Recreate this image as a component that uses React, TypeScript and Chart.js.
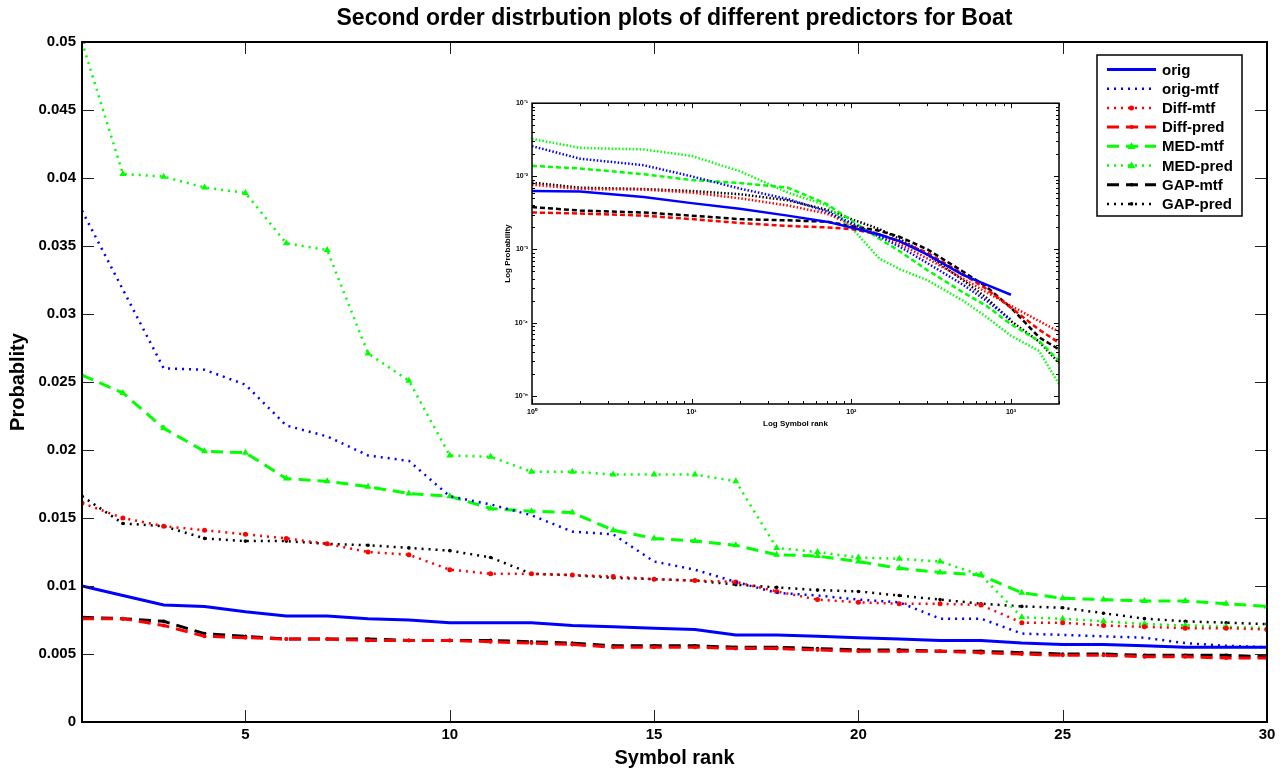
import React, { useEffect, useRef } from 'react';
import { Chart, registerables } from 'chart.js';

Chart.register(...registerables);

// ---------- main chart data ----------
const RANKS = [1, 2, 3, 4, 5, 6, 7, 8, 9, 10, 11, 12, 13, 14, 15, 16, 17, 18, 19, 20, 21, 22, 23, 24, 25, 26, 27, 28, 29, 30];
const X_TICKS = [5, 10, 15, 20, 25, 30];
const Y_TICKS = [0, 0.005, 0.01, 0.015, 0.02, 0.025, 0.03, 0.035, 0.04, 0.045, 0.05];

const ORIG = [0.0100, 0.0093, 0.0086, 0.0085, 0.0081, 0.0078, 0.0078, 0.0076, 0.0075, 0.0073, 0.0073, 0.0073, 0.0071, 0.0070, 0.0069, 0.0068, 0.0064, 0.0064, 0.0063, 0.0062, 0.0061, 0.0060, 0.0060, 0.0058, 0.0057, 0.0057, 0.0056, 0.0055, 0.0055, 0.0055];
const ORIG_MTF = [0.0376, 0.0318, 0.0260, 0.0259, 0.0248, 0.0218, 0.0210, 0.0196, 0.0192, 0.0166, 0.0160, 0.0152, 0.0140, 0.0138, 0.0118, 0.0112, 0.0103, 0.0095, 0.0093, 0.0090, 0.0088, 0.0076, 0.0076, 0.0065, 0.0064, 0.0063, 0.0062, 0.0058, 0.0056, 0.0055];
const DIFF_MTF = [0.0161, 0.0150, 0.0144, 0.0141, 0.0138, 0.0135, 0.0131, 0.0125, 0.0123, 0.0112, 0.0109, 0.0109, 0.0108, 0.0107, 0.0105, 0.0104, 0.0103, 0.0096, 0.0090, 0.0088, 0.0087, 0.0087, 0.0086, 0.0073, 0.0073, 0.0071, 0.0070, 0.0069, 0.0069, 0.0068];
const DIFF_PRED = [0.0076, 0.0076, 0.0071, 0.0063, 0.0062, 0.0061, 0.0061, 0.0060, 0.0060, 0.0060, 0.0059, 0.0058, 0.0057, 0.0055, 0.0055, 0.0055, 0.0054, 0.0054, 0.0053, 0.0052, 0.0052, 0.0052, 0.0051, 0.0050, 0.0049, 0.0049, 0.0048, 0.0048, 0.0047, 0.0047];
const MED_MTF = [0.0255, 0.0242, 0.0216, 0.0199, 0.0198, 0.0179, 0.0177, 0.0173, 0.0168, 0.0166, 0.0157, 0.0155, 0.0154, 0.0141, 0.0135, 0.0133, 0.0130, 0.0123, 0.0122, 0.0118, 0.0113, 0.0110, 0.0108, 0.0095, 0.0091, 0.0090, 0.0089, 0.0089, 0.0087, 0.0085];
const MED_PRED = [0.0500, 0.0403, 0.0401, 0.0393, 0.0389, 0.0352, 0.0347, 0.0271, 0.0251, 0.0196, 0.0195, 0.0184, 0.0184, 0.0182, 0.0182, 0.0182, 0.0177, 0.0128, 0.0125, 0.0121, 0.0120, 0.0118, 0.0108, 0.0077, 0.0076, 0.0074, 0.0072, 0.0071, 0.0070, 0.0069];
const GAP_MTF = [0.0077, 0.0076, 0.0074, 0.0065, 0.0063, 0.0061, 0.0061, 0.0061, 0.0060, 0.0060, 0.0060, 0.0059, 0.0058, 0.0056, 0.0056, 0.0056, 0.0055, 0.0055, 0.0054, 0.0053, 0.0053, 0.0052, 0.0052, 0.0051, 0.0050, 0.0050, 0.0049, 0.0049, 0.0049, 0.0048];
const GAP_PRED = [0.0166, 0.0146, 0.0144, 0.0135, 0.0133, 0.0133, 0.0131, 0.0130, 0.0128, 0.0126, 0.0121, 0.0109, 0.0108, 0.0106, 0.0105, 0.0104, 0.0101, 0.0099, 0.0097, 0.0096, 0.0093, 0.0090, 0.0087, 0.0085, 0.0084, 0.0080, 0.0076, 0.0074, 0.0073, 0.0072];

// ---------- inset (log-log) data ----------
const INSET_RANKS = [1, 2, 5, 10, 20, 40, 70, 100, 150, 200, 300, 500, 700, 1000, 1500, 2000];
const IN_ORIG = [0.0063, 0.0062, 0.0052, 0.0043, 0.0036, 0.0029, 0.0024, 0.0020, 0.0016, 0.0013, 0.00085, 0.00045, 0.00033, 0.00024, null, null];
const IN_ORIG_MTF = [0.0259, 0.0174, 0.0142, 0.0100, 0.0068, 0.0049, 0.0033, 0.0023, 0.0015, 0.0011, 0.00065, 0.00033, 0.00020, 0.00011, null, null];
const IN_DIFF_MTF = [0.0077, 0.0067, 0.0066, 0.0060, 0.0050, 0.0040, 0.0031, 0.0022, 0.0016, 0.0012, 0.00075, 0.00040, 0.00026, 0.00017, 0.000105, 0.000075];
const IN_DIFF_PRED = [0.0032, 0.0031, 0.0029, 0.0026, 0.0023, 0.0021, 0.0020, 0.0019, 0.0016, 0.0013, 0.0009, 0.00046, 0.00029, 0.00016, 0.00008, 0.000053];
const IN_MED_MTF = [0.0139, 0.0128, 0.0107, 0.0089, 0.0081, 0.0070, 0.0042, 0.0025, 0.0014, 0.00095, 0.00052, 0.00026, 0.00017, 0.000095, 0.000056, 0.000030];
const IN_MED_PRED = [0.0325, 0.0245, 0.0233, 0.0190, 0.0118, 0.0060, 0.0040, 0.0020, 0.00075, 0.00054, 0.00038, 0.00020, 0.00012, 0.000066, 0.000041, 0.0000145];
const IN_GAP_MTF = [0.0038, 0.0034, 0.0032, 0.0029, 0.0026, 0.0025, 0.0024, 0.0021, 0.0018, 0.0015, 0.0010, 0.00050, 0.00031, 0.00016, 0.000063, 0.000043];
const IN_GAP_PRED = [0.0082, 0.0070, 0.0067, 0.0063, 0.0057, 0.0047, 0.0035, 0.0026, 0.0019, 0.0014, 0.00085, 0.00038, 0.00022, 0.000105, 0.000055, 0.000028];
const INSET_X_TICKS = [1, 2, 3, 4, 5, 6, 7, 8, 9, 10, 20, 30, 40, 50, 60, 70, 80, 90, 100, 200, 300, 400, 500, 600, 700, 800, 900, 1000, 2000];
const INSET_Y_TICKS = [1e-5, 2e-5, 3e-5, 4e-5, 5e-5, 6e-5, 7e-5, 8e-5, 9e-5, 1e-4, 2e-4, 3e-4, 4e-4, 5e-4, 6e-4, 7e-4, 8e-4, 9e-4, 1e-3, 2e-3, 3e-3, 4e-3, 5e-3, 6e-3, 7e-3, 8e-3, 9e-3, 1e-2, 2e-2, 3e-2, 4e-2, 5e-2, 6e-2, 7e-2, 8e-2, 9e-2, 1e-1];

const SERIES_LABELS = ['orig', 'orig-mtf', 'Diff-mtf', 'Diff-pred', 'MED-mtf', 'MED-pred', 'GAP-mtf', 'GAP-pred'];

const FONT = '"Liberation Sans", Arial, Helvetica, sans-serif';
const BLUE = '#0000ff';
const RED = '#ff0000';
const GREEN = '#00ff00';
const BLACK = '#000000';
const DOT = [2, 5];
const DASH = [12, 7];

type Style = { color: string; width: number; dash: number[]; point: string | false; radius: number };
const STYLES: Style[] = [
  { color: BLUE, width: 3, dash: [], point: false, radius: 0 },
  { color: BLUE, width: 2.5, dash: DOT, point: false, radius: 0 },
  { color: RED, width: 2.5, dash: DOT, point: 'circle', radius: 2.5 },
  { color: RED, width: 3, dash: DASH, point: 'circle', radius: 2 },
  { color: GREEN, width: 3, dash: DASH, point: 'triangle', radius: 4 },
  { color: GREEN, width: 2.5, dash: DOT, point: 'triangle', radius: 4 },
  { color: BLACK, width: 3, dash: DASH, point: 'circle', radius: 1.8 },
  { color: BLACK, width: 2.5, dash: DOT, point: 'circle', radius: 1.8 },
];

const MAIN_SERIES = [ORIG, ORIG_MTF, DIFF_MTF, DIFF_PRED, MED_MTF, MED_PRED, GAP_MTF, GAP_PRED];
const INSET_SERIES = [IN_ORIG, IN_ORIG_MTF, IN_DIFF_MTF, IN_DIFF_PRED, IN_MED_MTF, IN_MED_PRED, IN_GAP_MTF, IN_GAP_PRED];

function drawMarker(ctx: CanvasRenderingContext2D, style: string | false, x: number, y: number, r: number, color: string) {
  if (!style) return;
  ctx.save();
  ctx.setLineDash([]);
  ctx.fillStyle = color;
  ctx.beginPath();
  if (style === 'triangle') {
    ctx.moveTo(x, y - r);
    ctx.lineTo(x + r, y + r * 0.7);
    ctx.lineTo(x - r, y + r * 0.7);
    ctx.closePath();
  } else {
    ctx.arc(x, y, r, 0, Math.PI * 2);
  }
  ctx.fill();
  ctx.restore();
}

const mainDecor = {
  id: 'mainDecor',
  afterDraw(chart: any) {
    const { ctx, chartArea: a, scales } = chart;
    ctx.save();
    ctx.strokeStyle = '#222';
    ctx.lineWidth = 1;
    ctx.setLineDash([]);
    ctx.beginPath();
    for (const t of scales.x.ticks) {
      const px = Math.round(scales.x.getPixelForValue(t.value)) + 0.5;
      ctx.moveTo(px, a.bottom); ctx.lineTo(px, a.bottom - 12);
      ctx.moveTo(px, a.top); ctx.lineTo(px, a.top + 12);
    }
    for (const t of scales.y.ticks) {
      const py = Math.round(scales.y.getPixelForValue(t.value)) + 0.5;
      ctx.moveTo(a.left, py); ctx.lineTo(a.left + 12, py);
      ctx.moveTo(a.right, py); ctx.lineTo(a.right - 12, py);
    }
    ctx.stroke();
    ctx.strokeStyle = '#000';
    ctx.lineWidth = 2;
    ctx.strokeRect(a.left, a.top, a.right - a.left, a.bottom - a.top);

    // title
    ctx.fillStyle = '#000';
    ctx.font = `bold 23px ${FONT}`;
    ctx.textAlign = 'center';
    ctx.textBaseline = 'middle';
    ctx.fillText('Second order distrbution plots of different predictors for Boat', (a.left + a.right) / 2, 19);

    // legend
    const lx = 1097, ly = 55, lw = 145, lh = 161;
    ctx.fillStyle = '#fff';
    ctx.fillRect(lx, ly, lw, lh);
    ctx.strokeStyle = '#000';
    ctx.lineWidth = 1.5;
    ctx.strokeRect(lx, ly, lw, lh);
    ctx.font = `bold 15px ${FONT}`;
    ctx.textAlign = 'left';
    chart.data.datasets.forEach((ds: any, i: number) => {
      const y = 69.5 + i * 19.2;
      ctx.strokeStyle = ds.borderColor;
      ctx.lineWidth = ds.borderWidth;
      ctx.setLineDash(ds.borderDash || []);
      ctx.beginPath();
      ctx.moveTo(1107, y);
      ctx.lineTo(1156, y);
      ctx.stroke();
      drawMarker(ctx, ds.pointRadius > 0 ? ds.pointStyle : false, 1131.5, y, ds.pointRadius, ds.borderColor);
      ctx.fillStyle = '#000';
      ctx.fillText(ds.label, 1162, y + 1);
    });
    ctx.restore();
  },
};

const insetDecor = {
  id: 'insetDecor',
  afterDraw(chart: any) {
    const { ctx, chartArea: a, scales } = chart;
    const isMajor = (v: number) => Math.abs(Math.log10(v) - Math.round(Math.log10(v))) < 1e-6;
    ctx.save();
    ctx.strokeStyle = '#000';
    ctx.lineWidth = 1;
    ctx.setLineDash([]);
    ctx.beginPath();
    for (const t of scales.x.ticks) {
      const px = Math.round(scales.x.getPixelForValue(t.value)) + 0.5;
      const L = isMajor(t.value) ? 5 : 3;
      ctx.moveTo(px, a.bottom); ctx.lineTo(px, a.bottom - L);
      ctx.moveTo(px, a.top); ctx.lineTo(px, a.top + L);
    }
    for (const t of scales.y.ticks) {
      const py = Math.round(scales.y.getPixelForValue(t.value)) + 0.5;
      const L = isMajor(t.value) ? 5 : 3;
      ctx.moveTo(a.left, py); ctx.lineTo(a.left + L, py);
      ctx.moveTo(a.right, py); ctx.lineTo(a.right - L, py);
    }
    ctx.stroke();
    ctx.lineWidth = 1.5;
    ctx.strokeRect(a.left, a.top, a.right - a.left, a.bottom - a.top);
    ctx.restore();
  },
};

const SUP: Record<string, string> = { '-': '⁻', '0': '⁰', '1': '¹', '2': '²', '3': '³', '4': '⁴', '5': '⁵', '6': '⁶', '7': '⁷', '8': '⁸', '9': '⁹' };
function powLabel(v: number) {
  const e = Math.log10(v);
  if (Math.abs(e - Math.round(e)) > 1e-6) return '';
  return '10' + String(Math.round(e)).split('').map((c) => SUP[c]).join('');
}

export default function App() {
  const mainRef = useRef<HTMLCanvasElement>(null);
  const insetRef = useRef<HTMLCanvasElement>(null);

  useEffect(() => {
    const mainChart = new Chart(mainRef.current as HTMLCanvasElement, {
      type: 'line',
      data: {
        datasets: MAIN_SERIES.map((vals, i) => ({
          label: SERIES_LABELS[i],
          data: RANKS.map((r, j) => ({ x: r, y: vals[j] })),
          borderColor: STYLES[i].color,
          backgroundColor: STYLES[i].color,
          borderWidth: STYLES[i].width,
          borderDash: STYLES[i].dash,
          pointStyle: STYLES[i].point || 'circle',
          pointRadius: STYLES[i].radius,
          pointBorderWidth: 0,
          pointBackgroundColor: STYLES[i].color,
          tension: 0,
          fill: false,
        })),
      },
      options: {
        responsive: false,
        animation: false,
        layout: { padding: { top: 42, right: 21, left: 0, bottom: 0 } },
        plugins: { legend: { display: false }, tooltip: { enabled: false }, title: { display: false } },
        scales: {
          x: {
            type: 'linear',
            min: 1,
            max: 30,
            afterBuildTicks: (s: any) => { s.ticks = X_TICKS.map((v) => ({ value: v })); },
            afterFit: (s: any) => { s.height = 53; },
            grid: { display: false, drawTicks: false },
            border: { display: false },
            ticks: { color: '#000', font: { family: FONT, size: 15, weight: 'bold' }, padding: 4, maxRotation: 0, autoSkip: false },
            title: { display: true, text: 'Symbol rank', color: '#000', font: { family: FONT, size: 20, weight: 'bold' }, padding: { top: 0, bottom: 5 } },
          },
          y: {
            type: 'linear',
            min: 0,
            max: 0.05,
            afterBuildTicks: (s: any) => { s.ticks = Y_TICKS.map((v) => ({ value: v })); },
            afterFit: (s: any) => { s.width = 82; },
            grid: { display: false, drawTicks: false },
            border: { display: false },
            ticks: { color: '#000', font: { family: FONT, size: 15, weight: 'bold' }, padding: 6, callback: (v: any) => String(+Number(v).toFixed(3)) },
            title: { display: true, text: 'Probablity', color: '#000', font: { family: FONT, size: 20, weight: 'bold' }, padding: { top: 6, bottom: 0 } },
          },
        },
      },
      plugins: [mainDecor],
    } as any);

    const insetChart = new Chart(insetRef.current as HTMLCanvasElement, {
      type: 'line',
      data: {
        datasets: INSET_SERIES.map((vals, i) => ({
          label: SERIES_LABELS[i],
          data: INSET_RANKS.map((r, j) => ({ x: r, y: vals[j] })).filter((p) => p.y !== null),
          borderColor: STYLES[i].color,
          borderWidth: 2.5,
          borderDash: STYLES[i].dash.length ? (STYLES[i].dash === DOT ? [1.5, 2] : [5, 3]) : [],
          pointRadius: 0,
          tension: 0,
          fill: false,
        })),
      },
      options: {
        responsive: false,
        animation: false,
        layout: { padding: { top: 5, right: 3, left: 0, bottom: 0 } },
        plugins: { legend: { display: false }, tooltip: { enabled: false } },
        scales: {
          x: {
            type: 'logarithmic',
            min: 1,
            max: 2000,
            afterBuildTicks: (s: any) => { s.ticks = INSET_X_TICKS.map((v) => ({ value: v })); },
            afterFit: (s: any) => { s.height = 28; },
            grid: { display: false, drawTicks: false },
            border: { display: false },
            ticks: { color: '#000', font: { family: FONT, size: 7, weight: 'bold' }, padding: 4, maxRotation: 0, autoSkip: false, callback: (v: any) => powLabel(Number(v)) },
            title: { display: true, text: 'Log Symbol rank', color: '#000', font: { family: FONT, size: 8, weight: 'bold' }, padding: { top: 0, bottom: 3 } },
          },
          y: {
            type: 'logarithmic',
            min: 7.7e-6,
            max: 0.1,
            afterBuildTicks: (s: any) => { s.ticks = INSET_Y_TICKS.map((v) => ({ value: v })); },
            afterFit: (s: any) => { s.width = 30; },
            grid: { display: false, drawTicks: false },
            border: { display: false },
            ticks: { color: '#000', font: { family: FONT, size: 7, weight: 'bold' }, padding: 4, autoSkip: false, callback: (v: any) => powLabel(Number(v)) },
            title: { display: true, text: 'Log Probability', color: '#000', font: { family: FONT, size: 8, weight: 'bold' }, padding: { top: 1, bottom: 0 } },
          },
        },
      },
      plugins: [insetDecor],
    } as any);

    return () => {
      mainChart.destroy();
      insetChart.destroy();
    };
  }, []);

  return (
    <div style={{ position: 'fixed', left: 0, top: 0, width: 1288, height: 775, background: '#fff' }}>
      <canvas ref={mainRef} width={1288} height={775} style={{ position: 'absolute', left: 0, top: 0 }} />
      <canvas ref={insetRef} width={561} height={337} style={{ position: 'absolute', left: 502, top: 95 }} />
    </div>
  );
}
